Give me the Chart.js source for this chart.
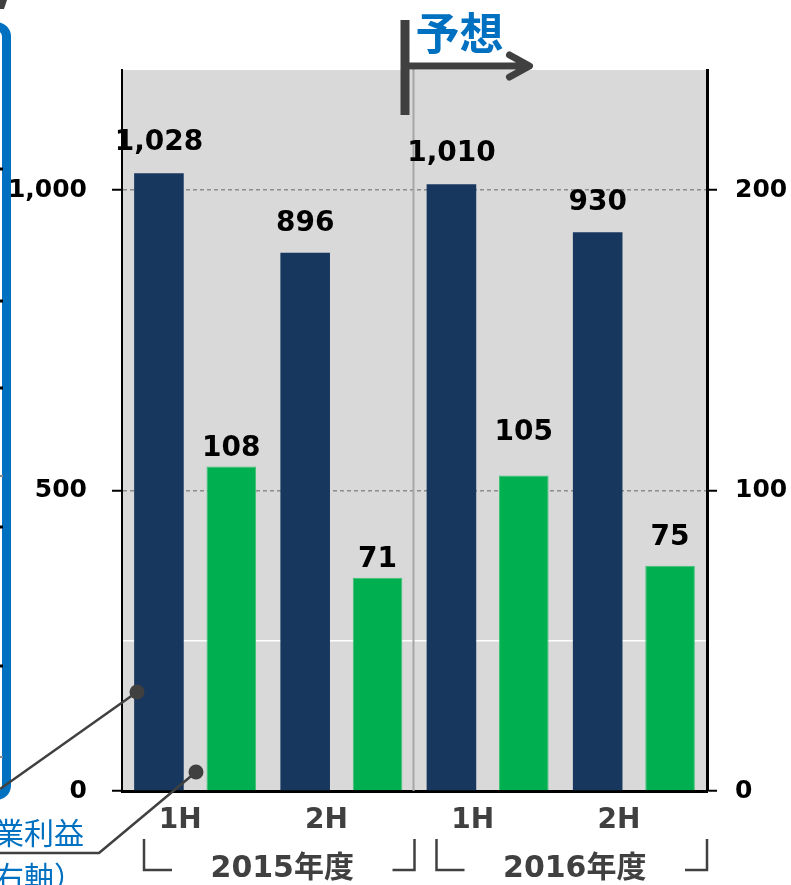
<!DOCTYPE html>
<html>
<head>
<meta charset="utf-8">
<script src="https://cdn.jsdelivr.net/npm/chart.js@4/dist/chart.umd.min.js"></script>
<style>
  html, body { margin: 0; padding: 0; background: #fff; }
  canvas { display: block; }
</style>
</head>
<body>
<canvas id="grafico" width="791" height="885"></canvas>
<script>
// datos
const periodos = ['1H', '2H', '1H', '2H'];
const anios = ['2015年度', '2016年度'];
const ventas = [1028, 896, 1010, 930];     // eje izquierdo
const beneficio = [108, 71, 105, 75];      // eje derecho (右軸)
const ticksIzq = [0, 500, 1000];
const ticksDer = [0, 50, 100, 200];
const textoPrevision = '予想';
const textoLeyenda = ['営業利益', '（右軸）'];

const NAVY = '#17375E';
const VERDE = '#00AF50';
const GRIS = '#404040';
const AZUL = '#0070C0';
const FUENTE = '"DejaVu Sans", "Noto Sans CJK JP", sans-serif';

// fondo gris del area de trazado + separador vertical
const fondo = {
  id: 'fondo',
  beforeDraw(chart) {
    const { ctx, chartArea: a } = chart;
    ctx.save();
    ctx.fillStyle = '#D9D9D9';
    ctx.fillRect(a.left, a.top, a.right - a.left, a.bottom - a.top);
    ctx.restore();
  },
  beforeDatasetsDraw(chart) {
    const { ctx, chartArea: a } = chart;
    const cw = (a.right - a.left) / periodos.length;
    const xs = a.left + cw * 2 - 1;
    ctx.save();
    ctx.strokeStyle = '#A6A6A6';
    ctx.lineWidth = 2;
    ctx.beginPath();
    ctx.moveTo(xs, a.top - 3);
    ctx.lineTo(xs, a.bottom);
    ctx.stroke();
    ctx.restore();
  }
};

// etiquetas encima de cada barra
const etiquetas = {
  id: 'etiquetas',
  afterDatasetsDraw(chart, args, opts) {
    const { ctx } = chart;
    ctx.save();
    ctx.font = 'bold 28px ' + FUENTE;
    ctx.fillStyle = '#000';
    ctx.textAlign = 'center';
    ctx.textBaseline = 'bottom';
    chart.data.datasets.forEach((ds, d) => {
      const meta = chart.getDatasetMeta(d);
      meta.data.forEach((bar, i) => {
        const gap = opts.gaps[d][i];
        ctx.fillText(ds.data[i].toLocaleString('en-US'), bar.x, bar.y - gap + 7);
      });
    });
    ctx.restore();
  }
};

// anotaciones: corchetes de año, flecha de prevision, leyenda recortada
const anotaciones = {
  id: 'anotaciones',
  afterDraw(chart) {
    const { ctx, chartArea: a } = chart;
    const cw = (a.right - a.left) / periodos.length;
    ctx.save();

    // corchetes + años
    ctx.strokeStyle = GRIS;
    ctx.lineWidth = 2.5;
    ctx.fillStyle = GRIS;
    ctx.font = 'bold 30px ' + FUENTE;
    ctx.textAlign = 'center';
    ctx.textBaseline = 'middle';
    anios.forEach((txt, g) => {
      const gl = a.left + g * 2 * cw;
      const gr = gl + 2 * cw;
      const bl = gl + 22, br = gr;
      ctx.beginPath();
      ctx.moveTo(bl, 839); ctx.lineTo(bl, 870); ctx.lineTo(bl + 28, 870);
      ctx.moveTo(br, 839); ctx.lineTo(br, 870); ctx.lineTo(br - 22, 870);
      ctx.stroke();
      ctx.fillText(txt, (gl + gr) / 2 + 14, 869);
    });

    // marcador de prevision
    const xs = a.left + cw * 2;
    ctx.fillStyle = GRIS;
    ctx.fillRect(xs - 14, 20, 9, 95);
    ctx.lineWidth = 7;
    ctx.lineCap = 'round';
    ctx.lineJoin = 'round';
    ctx.beginPath();
    ctx.moveTo(xs - 6, 66); ctx.lineTo(xs + 114, 66);
    ctx.moveTo(xs + 95, 55); ctx.lineTo(xs + 115, 66); ctx.lineTo(xs + 95, 77);
    ctx.stroke();
    ctx.fillStyle = AZUL;
    ctx.font = 'bold 44px "Noto Sans CJK JP", sans-serif';
    ctx.textAlign = 'left';
    ctx.textBaseline = 'middle';
    ctx.fillText(textoPrevision, xs + 1, 33);

    // caja azul recortada a la izquierda
    ctx.strokeStyle = AZUL;
    ctx.lineWidth = 9;
    ctx.beginPath();
    ctx.roundRect(-30, 26.5, 36.5, 769, 10);
    ctx.stroke();
    ctx.fillStyle = '#000';
    [169, 301, 388, 527, 666].forEach(y => ctx.fillRect(0, y - 1.5, 3, 3));
    ctx.fillStyle = '#888';
    [476, 757].forEach(y => ctx.fillRect(0, y - 1, 3, 2));
    ctx.fillStyle = GRIS;
    ctx.beginPath();
    ctx.moveTo(0, 0); ctx.lineTo(7, 0); ctx.lineTo(4, 9); ctx.lineTo(0, 9);
    ctx.closePath();
    ctx.fill();

    // lineas guia y puntos
    ctx.strokeStyle = GRIS;
    ctx.fillStyle = GRIS;
    ctx.lineWidth = 2.5;
    ctx.lineCap = 'butt';
    ctx.beginPath();
    ctx.moveTo(137, 692); ctx.lineTo(0, 789);
    ctx.moveTo(196, 772); ctx.lineTo(99, 853); ctx.lineTo(0, 853);
    ctx.stroke();
    [[137, 692], [196, 772]].forEach(([x, y]) => {
      ctx.beginPath();
      ctx.arc(x, y, 7.5, 0, Math.PI * 2);
      ctx.fill();
    });

    // texto de leyenda (cortado por el borde)
    ctx.fillStyle = AZUL;
    ctx.font = '30px "Noto Sans CJK JP", sans-serif';
    ctx.textAlign = 'right';
    ctx.textBaseline = 'middle';
    ctx.fillText(textoLeyenda[0], 84, 833);
    ctx.fillText(textoLeyenda[1], 84, 877);

    ctx.restore();
  }
};

const grafico = new Chart(document.getElementById('grafico'), {
  type: 'bar',
  data: {
    labels: periodos,
    datasets: [{
      label: '売上高',
      data: ventas,
      yAxisID: 'y',
      backgroundColor: NAVY,
      borderWidth: 0,
      categoryPercentage: 0.99,
      barPercentage: 0.685
    }, {
      label: '営業利益',
      data: beneficio,
      yAxisID: 'y1',
      backgroundColor: VERDE,
      borderColor: '#3CC373',
      borderWidth: 1,
      categoryPercentage: 0.99,
      barPercentage: 0.685
    }]
  },
  options: {
    responsive: false,
    animation: false,
    devicePixelRatio: 1,
    layout: { padding: { top: 70, left: 0, right: 0, bottom: 0 } },
    plugins: {
      legend: { display: false },
      tooltip: { enabled: false },
      etiquetas: { gaps: [[24, 22, 23, 23], [11, 11, 36, 21]] }
    },
    scales: {
      x: {
        z: 1,
        grid: { display: false, drawTicks: false },
        border: { display: true, color: '#000', width: 3 },
        ticks: {
          color: GRIS,
          font: { family: FUENTE, size: 28, weight: 'bold' },
          padding: 13,
          labelOffset: -15,
          maxRotation: 0
        },
        afterFit(s) { s.height = 94; }
      },
      y: {
        position: 'left',
        min: 0,
        max: 1200,
        afterBuildTicks(s) { s.ticks = ticksIzq.map(v => ({ value: v })); },
        grid: {
          color: '#8C8C8C',
          lineWidth: 1.5,
          tickColor: '#000',
          tickLength: 10,
          tickWidth: 2,
          tickBorderDash: []
        },
        border: { display: true, color: '#000', width: 2, dash: [4, 3] },
        ticks: {
          color: '#000',
          font: { family: FUENTE, size: 25, weight: 'bold' },
          padding: 25,
          callback: v => v.toLocaleString('en-US')
        },
        afterFit(s) { s.width = 122; }
      },
      y1: {
        position: 'right',
        min: 0,
        max: 240,
        afterBuildTicks(s) { s.ticks = ticksDer.map(v => ({ value: v })); },
        grid: {
          color: c => c.tick && c.tick.value === 50 ? '#FFFFFF' : 'rgba(0,0,0,0)',
          lineWidth: 1.5,
          tickColor: c => c.tick && c.tick.value === 50 ? 'rgba(0,0,0,0)' : '#000',
          tickLength: 10,
          tickWidth: 2
        },
        border: { display: true, color: '#000', width: 3 },
        ticks: {
          color: '#000',
          font: { family: FUENTE, size: 25, weight: 'bold' },
          padding: 18,
          callback: v => v === 50 ? '' : v.toLocaleString('en-US')
        },
        afterFit(s) { s.width = 84; }
      }
    }
  },
  plugins: [fondo, etiquetas, anotaciones]
});
</script>
</body>
</html>
